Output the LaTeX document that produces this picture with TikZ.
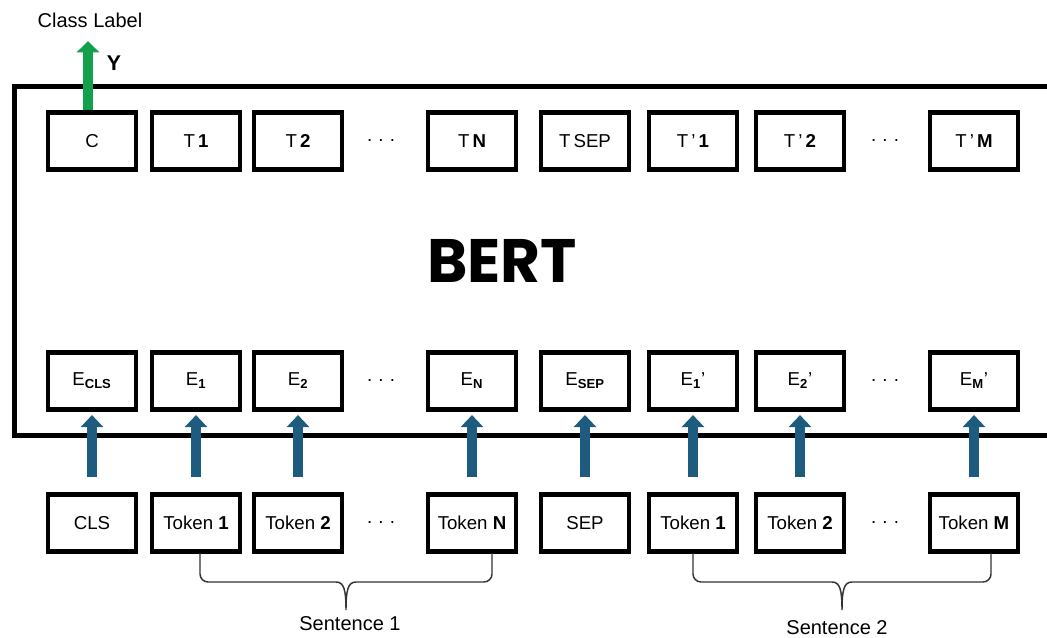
\documentclass[tikz,border=0pt]{standalone}
\usepackage{fontspec}
\setmainfont{Liberation Sans}
\newfontfamily\bertfont{Poppins}
\usetikzlibrary{arrows.meta}

\definecolor{embblue}{HTML}{1D5C7E}
\definecolor{clsgreen}{HTML}{13A04C}
\definecolor{bracegray}{HTML}{333333}

\tikzset{every picture/.style={line width=0.75pt}}

\begin{document}
\begin{tikzpicture}[
            x=0.75pt,
            y=0.75pt,
            yscale=-1,
            xscale=1,
            every node/.style={text=black},
            line width=0.75pt,
            tokbox/.style={draw=black, line width=3.6pt, minimum width=66pt, minimum height=43pt, inner sep=0pt, font=\fontsize{14}{16}\selectfont},
            dotsnode/.style={font=\fontsize{14}{16}\selectfont},
            embarrow/.style={draw=embblue, line width=7.5pt, -{Triangle[length=9pt,width=16.5pt]}, embblue, shorten <=11.25pt, shorten >=2.25pt},
            clsarrow/.style={draw=clsgreen, line width=7.5pt, -{Triangle[length=8.5pt,width=16.5pt]}, clsgreen},
            sentbrace/.style={draw=bracegray, line width=1.1pt},
            labeltext/.style={font=\fontsize{15}{18}\selectfont, inner sep=0pt}
        ]
            \useasboundingbox (0,0) rectangle (1047,638);

            % BERT frame, open to the right
            \draw [line width=3.75pt] (1055,87) -- (14,87) -- (14,435) -- (1055,435) ;
            \node [font=\bertfont\bfseries\fontsize{46}{54}\selectfont] (bert) at (502,261) {BERT};

            % output row
            \foreach \x/\nm/\txt in {92/c/C, 196/t1/T\,\textbf{1}, 298/t2/T\,\textbf{2}, 472/tn/T\,\textbf{N}, 585/tsep/T\,SEP, 693/tp1/T\,'\,\textbf{1}, 800/tp2/T\,'\,\textbf{2}, 974/tpm/T\,'\,\textbf{M}}
                \node [tokbox] (\nm) at (\x,141) {\txt};
            \node [dotsnode] (tdotsa) at (381,141) {.\,\,.\,\,.};
            \node [dotsnode] (tdotsb) at (885,141) {.\,\,.\,\,.};

            % embedding row
            \foreach \x/\nm/\txt in {92/ecls/E\textsubscript{\textbf{CLS}}, 196/e1/E\textsubscript{\textbf{1}}, 298/e2/E\textsubscript{\textbf{2}}, 472/en/E\textsubscript{\textbf{N}}, 585/esep/E\textsubscript{\textbf{SEP}}, 693/ep1/E\textsubscript{\textbf{1}}', 800/ep2/E\textsubscript{\textbf{2}}', 974/epm/E\textsubscript{\textbf{M}}'}
                \node [tokbox] (\nm) at (\x,381) {\txt};
            \node [dotsnode] (edotsa) at (381,381) {.\,\,.\,\,.};
            \node [dotsnode] (edotsb) at (885,381) {.\,\,.\,\,.};

            % input row
            \foreach \x/\nm/\txt in {92/cls/CLS, 196/tok1/Token \textbf{1}, 298/tok2/Token \textbf{2}, 472/tokn/Token \textbf{N}, 585/sep/SEP, 693/tokp1/Token \textbf{1}, 800/tokp2/Token \textbf{2}, 974/tokm/Token \textbf{M}}
                \node [tokbox] (\nm) at (\x,523) {\txt};
            \node [dotsnode] (idotsa) at (381,523) {.\,\,.\,\,.};
            \node [dotsnode] (idotsb) at (885,523) {.\,\,.\,\,.};

            % input to embedding
            \foreach \a/\b in {cls/ecls, tok1/e1, tok2/e2, tokn/en, sep/esep, tokp1/ep1, tokp2/ep2, tokm/epm}
                \draw [embarrow] (\a.north) -- (\b.south);

            % class label
            \node [labeltext] (classlbl) at (90,20) {Class Label};
            \coordinate (ytip) at (88,41);
            \draw [clsarrow] (c.north -| ytip) -- (ytip);
            \node [font=\fontsize{16}{18}\selectfont\bfseries] (ylbl) at (114,63) {Y};

            % sentence braces
            \draw [sentbrace, rounded corners=6] (200,553) -- (200,582) -- (336,582) ;
            \draw [sentbrace] (336,582) .. controls (344,582) and (346,590) .. (346,610) .. controls (346,590) and (348,582) .. (356,582) ;
            \draw [sentbrace, rounded corners=6] (356,582) -- (492,582) -- (492,553) ;
            \node [labeltext] (sent1) at (350,624) {Sentence 1};

            \draw [sentbrace, rounded corners=6] (693,553) -- (693,582) -- (832,582) ;
            \draw [sentbrace] (832,582) .. controls (840,582) and (842,590) .. (842,610) .. controls (842,590) and (844,582) .. (852,582) ;
            \draw [sentbrace, rounded corners=6] (852,582) -- (991,582) -- (991,553) ;
            \node [labeltext] (sent2) at (837,628) {Sentence 2};
        \end{tikzpicture}
\end{document}
